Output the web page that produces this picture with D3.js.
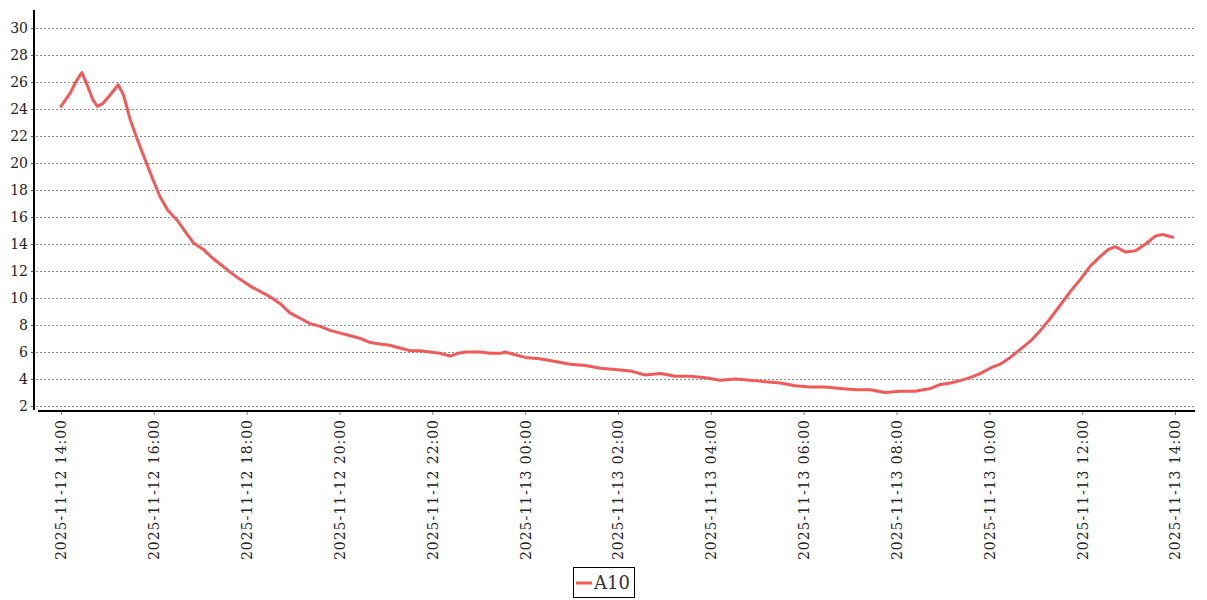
<!DOCTYPE html>
<html>
<head>
<meta charset="utf-8">
<script src="https://cdn.jsdelivr.net/npm/d3@7"></script>
<style>
  body { margin: 0; background: #fff; }
  svg { display: block; }
</style>
</head>
<body>
<svg id="chart"></svg>
<script>
// Readings of A10 (time, value)
const times = [
  "2025-11-12 14:00", "2025-11-12 14:12", "2025-11-12 14:19", "2025-11-12 14:27", "2025-11-12 14:35",
  "2025-11-12 14:41", "2025-11-12 14:47", "2025-11-12 14:54", "2025-11-12 15:03", "2025-11-12 15:14",
  "2025-11-12 15:21", "2025-11-12 15:29", "2025-11-12 15:37", "2025-11-12 15:49", "2025-11-12 15:58",
  "2025-11-12 16:08", "2025-11-12 16:18", "2025-11-12 16:31", "2025-11-12 16:42", "2025-11-12 16:51",
  "2025-11-12 17:04", "2025-11-12 17:15", "2025-11-12 17:26", "2025-11-12 17:39", "2025-11-12 17:51",
  "2025-11-12 18:04", "2025-11-12 18:17", "2025-11-12 18:30", "2025-11-12 18:43", "2025-11-12 18:56",
  "2025-11-12 19:09", "2025-11-12 19:22", "2025-11-12 19:35", "2025-11-12 19:48", "2025-11-12 20:01",
  "2025-11-12 20:14", "2025-11-12 20:27", "2025-11-12 20:40", "2025-11-12 20:52", "2025-11-12 21:05",
  "2025-11-12 21:18", "2025-11-12 21:31", "2025-11-12 21:44", "2025-11-12 21:57", "2025-11-12 22:10",
  "2025-11-12 22:23", "2025-11-12 22:33", "2025-11-12 22:44", "2025-11-12 23:02", "2025-11-12 23:15",
  "2025-11-12 23:28", "2025-11-12 23:34", "2025-11-12 23:47", "2025-11-13 00:00", "2025-11-13 00:19",
  "2025-11-13 00:39", "2025-11-13 00:58", "2025-11-13 01:18", "2025-11-13 01:37", "2025-11-13 01:56",
  "2025-11-13 02:16", "2025-11-13 02:35", "2025-11-13 02:55", "2025-11-13 03:14", "2025-11-13 03:33",
  "2025-11-13 03:53", "2025-11-13 04:12", "2025-11-13 04:32", "2025-11-13 04:51", "2025-11-13 05:10",
  "2025-11-13 05:30", "2025-11-13 05:49", "2025-11-13 06:08", "2025-11-13 06:28", "2025-11-13 06:47",
  "2025-11-13 07:07", "2025-11-13 07:26", "2025-11-13 07:45", "2025-11-13 08:05", "2025-11-13 08:24",
  "2025-11-13 08:44", "2025-11-13 08:57", "2025-11-13 09:10", "2025-11-13 09:23", "2025-11-13 09:35",
  "2025-11-13 09:48", "2025-11-13 10:01", "2025-11-13 10:14", "2025-11-13 10:27", "2025-11-13 10:40",
  "2025-11-13 10:53", "2025-11-13 11:06", "2025-11-13 11:19", "2025-11-13 11:32", "2025-11-13 11:45",
  "2025-11-13 11:58", "2025-11-13 12:11", "2025-11-13 12:24", "2025-11-13 12:34", "2025-11-13 12:43",
  "2025-11-13 12:56", "2025-11-13 13:09", "2025-11-13 13:22", "2025-11-13 13:35", "2025-11-13 13:44",
  "2025-11-13 13:57"
];
const values = [
  24.2, 25.2, 26.0, 26.7, 25.6,
  24.7, 24.2, 24.4, 25.0, 25.8,
  25.0, 23.3, 22.0, 20.2, 18.9,
  17.5, 16.5, 15.7, 14.8, 14.1,
  13.6, 13.0, 12.5, 11.9, 11.4,
  10.9, 10.5, 10.1, 9.6, 8.9,
  8.5, 8.1, 7.9, 7.6, 7.4,
  7.2, 7.0, 6.7, 6.6, 6.5,
  6.3, 6.1, 6.1, 6.0, 5.9,
  5.7, 5.9, 6.0, 6.0, 5.9,
  5.9, 6.0, 5.8, 5.6, 5.5,
  5.3, 5.1, 5.0, 4.8, 4.7,
  4.6, 4.3, 4.4, 4.2, 4.2,
  4.1, 3.9, 4.0, 3.9, 3.8,
  3.7, 3.5, 3.4, 3.4, 3.3,
  3.2, 3.2, 3.0, 3.1, 3.1,
  3.3, 3.6, 3.7, 3.9, 4.1,
  4.4, 4.8, 5.1, 5.6, 6.2,
  6.8, 7.6, 8.5, 9.5, 10.5,
  11.4, 12.4, 13.1, 13.6, 13.8,
  13.4, 13.5, 14.0, 14.6, 14.7,
  14.5
];
const seriesName = "A10";
const xTickLabels = [
  "2025-11-12 14:00", "2025-11-12 16:00", "2025-11-12 18:00", "2025-11-12 20:00",
  "2025-11-12 22:00", "2025-11-13 00:00", "2025-11-13 02:00", "2025-11-13 04:00",
  "2025-11-13 06:00", "2025-11-13 08:00", "2025-11-13 10:00", "2025-11-13 12:00",
  "2025-11-13 14:00"
];
const yTicks = [2, 4, 6, 8, 10, 12, 14, 16, 18, 20, 22, 24, 26, 28, 30];

const width = 1207;
const height = 600;
const lineColor = "#f25a5a";
const parseTime = d3.timeParse("%Y-%m-%d %H:%M");

const data = times.map((t, i) => ({ t: parseTime(t), v: values[i] }));

const svg = d3.select("#chart")
  .attr("width", width)
  .attr("height", height)
  .style("font-family", "'DejaVu Serif', serif");

// scales
const x = d3.scaleTime()
  .domain([parseTime(xTickLabels[0]), parseTime(xTickLabels[xTickLabels.length - 1])])
  .range([61, 1175]);
const y = d3.scaleLinear()
  .domain([2, 30])
  .range([406, 28]);

// dotted grid
svg.append("g")
  .selectAll("line")
  .data(yTicks)
  .join("line")
  .attr("x1", 36)
  .attr("x2", 1195)
  .attr("y1", d => y(d) + 0.5)
  .attr("y2", d => y(d) + 0.5)
  .attr("stroke", "#8a8a8a")
  .attr("stroke-width", 1)
  .attr("stroke-dasharray", "2,2");

// y axis
const yAxis = svg.append("g")
  .attr("transform", "translate(34,0)")
  .call(d3.axisLeft(y).tickValues(yTicks).tickSize(3).tickPadding(3));
yAxis.select(".domain").remove();
yAxis.selectAll(".tick line").attr("stroke", "#555");
yAxis.selectAll("text")
  .attr("font-family", "'DejaVu Serif', serif")
  .attr("font-size", 14)
  .attr("fill", "#222");
svg.append("line")
  .attr("x1", 34).attr("x2", 34)
  .attr("y1", 10).attr("y2", 410)
  .attr("stroke", "#000").attr("stroke-width", 2);

// x axis
const xAxis = svg.append("g")
  .attr("transform", "translate(0,411)")
  .call(d3.axisBottom(x)
    .tickValues(xTickLabels.map(parseTime))
    .tickSize(4)
    .tickFormat(d3.timeFormat("%Y-%m-%d %H:%M")));
xAxis.select(".domain").remove();
xAxis.selectAll(".tick line").attr("stroke", "#888");
xAxis.selectAll("text")
  .attr("font-family", "'DejaVu Serif', serif")
  .attr("font-size", 14)
  .attr("fill", "#222")
  .attr("text-anchor", "end")
  .attr("transform", "rotate(-90)")
  .attr("x", -9)
  .attr("y", 0)
  .attr("dy", "0.35em")
  .attr("textLength", 140)
  .attr("lengthAdjust", "spacing");
svg.append("line")
  .attr("x1", 38).attr("x2", 1195)
  .attr("y1", 411).attr("y2", 411)
  .attr("stroke", "#000").attr("stroke-width", 2);

// series line
const line = d3.line()
  .x(d => x(d.t))
  .y(d => y(d.v));
svg.append("path")
  .datum(data)
  .attr("fill", "none")
  .attr("stroke", lineColor)
  .attr("stroke-width", 3)
  .attr("stroke-linejoin", "round")
  .attr("stroke-linecap", "round")
  .attr("d", line);

// legend
const legend = svg.append("g").attr("transform", "translate(573,567)");
legend.append("rect")
  .attr("x", 0.5).attr("y", 0.5)
  .attr("width", 61).attr("height", 30)
  .attr("fill", "#fff")
  .attr("stroke", "#000");
legend.append("line")
  .attr("x1", 3).attr("x2", 19)
  .attr("y1", 16).attr("y2", 16)
  .attr("stroke", lineColor)
  .attr("stroke-width", 3);
legend.append("text")
  .attr("x", 21).attr("y", 22)
  .attr("font-size", 18)
  .attr("fill", "#333")
  .text(seriesName);
</script>
</body>
</html>
